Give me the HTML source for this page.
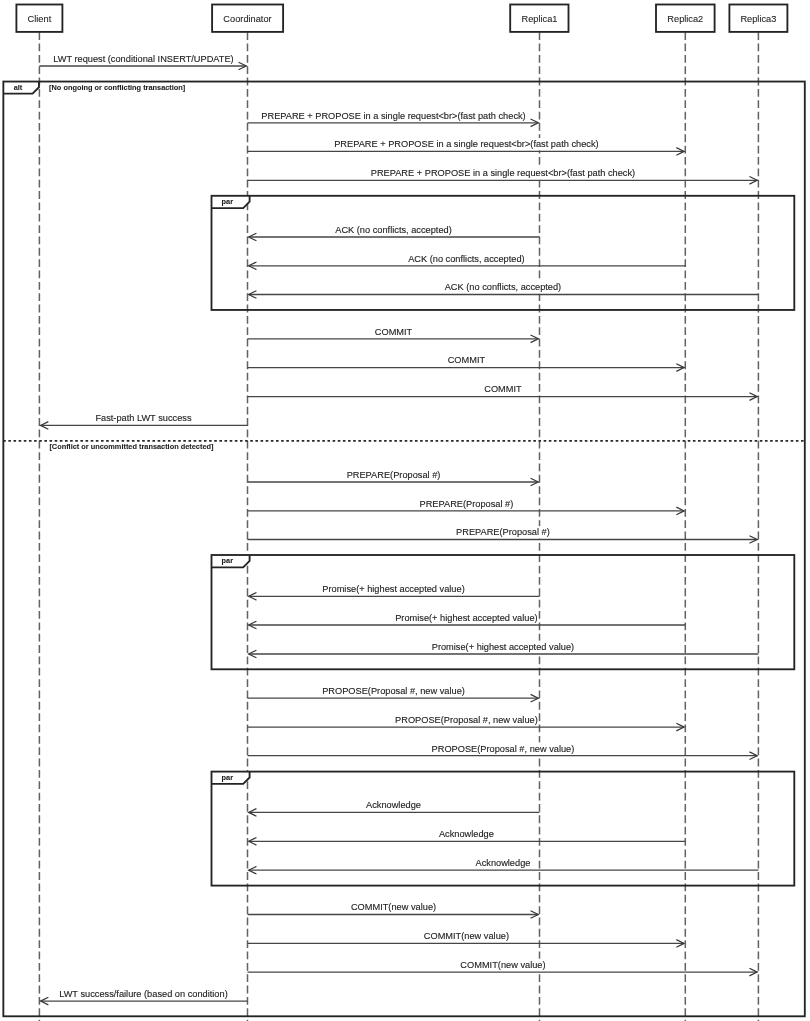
<!DOCTYPE html>
<html><head><meta charset="utf-8"><title>LWT sequence diagram</title>
<style>html,body{margin:0;padding:0;background:#fff;width:810px;height:1021px;overflow:hidden}svg{display:block;filter:grayscale(1)}</style>
</head><body>
<svg width="810" height="1021" viewBox="0 0 810 1021">
<style>text{font-family:"Liberation Sans",sans-serif}.m{font-size:9.25px;fill:#222;stroke:#222;stroke-width:0.12px}.p{font-size:9.25px;fill:#262626;stroke:#262626;stroke-width:0.1px}.b{font-size:7.37px;font-weight:bold;fill:#1e1e1e;stroke:#1e1e1e;stroke-width:0.08px}</style>
<rect width="810" height="1021" fill="#fff"/>
<line x1="39.4" y1="32.2" x2="39.4" y2="1021" stroke="#626262" stroke-width="1.5" stroke-dasharray="7.8 3.55"/>
<line x1="247.5" y1="32.2" x2="247.5" y2="1021" stroke="#626262" stroke-width="1.5" stroke-dasharray="7.8 3.55"/>
<line x1="539.5" y1="32.2" x2="539.5" y2="1021" stroke="#626262" stroke-width="1.5" stroke-dasharray="7.8 3.55"/>
<line x1="685.3" y1="32.2" x2="685.3" y2="1021" stroke="#626262" stroke-width="1.5" stroke-dasharray="7.8 3.55"/>
<line x1="758.4" y1="32.2" x2="758.4" y2="1021" stroke="#626262" stroke-width="1.5" stroke-dasharray="7.8 3.55"/>
<rect x="53.06" y="52.60" width="180.78" height="12.6" fill="#fff"/>
<rect x="261.06" y="109.40" width="264.88" height="12.6" fill="#fff"/>
<rect x="333.96" y="138.00" width="264.88" height="12.6" fill="#fff"/>
<rect x="370.51" y="166.90" width="264.88" height="12.6" fill="#fff"/>
<rect x="335.14" y="223.60" width="116.72" height="12.6" fill="#fff"/>
<rect x="408.04" y="252.40" width="116.72" height="12.6" fill="#fff"/>
<rect x="444.59" y="281.10" width="116.72" height="12.6" fill="#fff"/>
<rect x="374.74" y="325.40" width="37.52" height="12.6" fill="#fff"/>
<rect x="447.64" y="354.20" width="37.52" height="12.6" fill="#fff"/>
<rect x="484.19" y="383.20" width="37.52" height="12.6" fill="#fff"/>
<rect x="95.29" y="412.00" width="96.31" height="12.6" fill="#fff"/>
<rect x="346.55" y="468.60" width="93.91" height="12.6" fill="#fff"/>
<rect x="419.45" y="497.50" width="93.91" height="12.6" fill="#fff"/>
<rect x="456.00" y="526.10" width="93.91" height="12.6" fill="#fff"/>
<rect x="322.16" y="582.90" width="142.69" height="12.6" fill="#fff"/>
<rect x="395.06" y="611.60" width="142.69" height="12.6" fill="#fff"/>
<rect x="431.61" y="640.60" width="142.69" height="12.6" fill="#fff"/>
<rect x="322.03" y="684.80" width="142.94" height="12.6" fill="#fff"/>
<rect x="394.93" y="713.70" width="142.94" height="12.6" fill="#fff"/>
<rect x="431.48" y="742.30" width="142.94" height="12.6" fill="#fff"/>
<rect x="365.98" y="799.00" width="55.03" height="12.6" fill="#fff"/>
<rect x="438.88" y="827.90" width="55.03" height="12.6" fill="#fff"/>
<rect x="475.43" y="856.80" width="55.03" height="12.6" fill="#fff"/>
<rect x="350.84" y="901.10" width="85.33" height="12.6" fill="#fff"/>
<rect x="423.74" y="930.00" width="85.33" height="12.6" fill="#fff"/>
<rect x="460.29" y="958.70" width="85.33" height="12.6" fill="#fff"/>
<rect x="59.04" y="987.70" width="168.81" height="12.6" fill="#fff"/>
<path d="M3.35 81.55 V93.65 H32.55 L38.95 87.25 V81.55 Z" fill="#fff" stroke="none"/>
<rect x="3.35" y="81.55" width="801.45" height="934.75" fill="none" stroke="#242424" stroke-width="1.85"/>
<path d="M3.35 93.65 H32.55 L38.95 87.25 V81.55" fill="none" stroke="#242424" stroke-width="1.85"/>
<text class="b" transform="translate(17.95 89.60) scale(1 1.07)" text-anchor="middle">alt</text>
<text class="b" transform="translate(49.10 89.90) scale(1 1.07)">[No ongoing or conflicting transaction]</text>
<path d="M211.5 195.8 V208.10 H243.20 L249.60 201.70 V195.8 Z" fill="#fff" stroke="none"/>
<rect x="211.5" y="195.8" width="582.80" height="114.15" fill="none" stroke="#242424" stroke-width="1.85"/>
<path d="M211.5 208.10 H243.20 L249.60 201.70 V195.8" fill="none" stroke="#242424" stroke-width="1.85"/>
<text class="b" transform="translate(227.35 203.85) scale(1 1.07)" text-anchor="middle">par</text>
<path d="M211.5 555.0 V567.30 H243.20 L249.60 560.90 V555.0 Z" fill="#fff" stroke="none"/>
<rect x="211.5" y="555.0" width="582.80" height="114.30" fill="none" stroke="#242424" stroke-width="1.85"/>
<path d="M211.5 567.30 H243.20 L249.60 560.90 V555.0" fill="none" stroke="#242424" stroke-width="1.85"/>
<text class="b" transform="translate(227.35 563.05) scale(1 1.07)" text-anchor="middle">par</text>
<path d="M211.5 771.6 V783.90 H243.20 L249.60 777.50 V771.6 Z" fill="#fff" stroke="none"/>
<rect x="211.5" y="771.6" width="582.80" height="114.00" fill="none" stroke="#242424" stroke-width="1.85"/>
<path d="M211.5 783.90 H243.20 L249.60 777.50 V771.6" fill="none" stroke="#242424" stroke-width="1.85"/>
<text class="b" transform="translate(227.35 779.65) scale(1 1.07)" text-anchor="middle">par</text>
<line x1="3.2" y1="440.9" x2="804.8" y2="440.9" stroke="#2a2a2a" stroke-width="1.6" stroke-dasharray="2.6 2.547"/>
<text class="b" transform="translate(49.40 449.35) scale(1 1.07)">[Conflict or uncommitted transaction detected]</text>
<rect x="16.40" y="4.5" width="46.00" height="27.4" fill="#fff" stroke="#242424" stroke-width="1.85"/>
<text class="p" transform="translate(39.40 21.55) scale(1 1.07)" text-anchor="middle">Client</text>
<rect x="212.10" y="4.5" width="71.00" height="27.4" fill="#fff" stroke="#242424" stroke-width="1.85"/>
<text class="p" transform="translate(247.50 21.55) scale(1 1.07)" text-anchor="middle">Coordinator</text>
<rect x="510.20" y="4.5" width="58.30" height="27.4" fill="#fff" stroke="#242424" stroke-width="1.85"/>
<text class="p" transform="translate(539.50 21.55) scale(1 1.07)" text-anchor="middle">Replica1</text>
<rect x="656.00" y="4.5" width="58.60" height="27.4" fill="#fff" stroke="#242424" stroke-width="1.85"/>
<text class="p" transform="translate(685.30 21.55) scale(1 1.07)" text-anchor="middle">Replica2</text>
<rect x="729.40" y="4.5" width="58.00" height="27.4" fill="#fff" stroke="#242424" stroke-width="1.85"/>
<text class="p" transform="translate(758.40 21.55) scale(1 1.07)" text-anchor="middle">Replica3</text>
<line x1="39.4" y1="66.0" x2="246.30" y2="66.0" stroke="#464646" stroke-width="1.3"/>
<path d="M238.55 62.20 L246.30 66.0 L238.55 69.80" fill="none" stroke="#383838" stroke-width="1.25"/>
<text class="m" transform="translate(143.45 61.80) scale(1 1.07)" text-anchor="middle">LWT request (conditional INSERT/UPDATE)</text>
<line x1="247.5" y1="122.8" x2="538.30" y2="122.8" stroke="#464646" stroke-width="1.3"/>
<path d="M530.55 119.00 L538.30 122.8 L530.55 126.60" fill="none" stroke="#383838" stroke-width="1.25"/>
<text class="m" transform="translate(393.50 118.60) scale(1 1.07)" text-anchor="middle">PREPARE + PROPOSE in a single request&lt;br&gt;(fast path check)</text>
<line x1="247.5" y1="151.4" x2="684.10" y2="151.4" stroke="#464646" stroke-width="1.3"/>
<path d="M676.35 147.60 L684.10 151.4 L676.35 155.20" fill="none" stroke="#383838" stroke-width="1.25"/>
<text class="m" transform="translate(466.40 147.20) scale(1 1.07)" text-anchor="middle">PREPARE + PROPOSE in a single request&lt;br&gt;(fast path check)</text>
<line x1="247.5" y1="180.3" x2="757.20" y2="180.3" stroke="#464646" stroke-width="1.3"/>
<path d="M749.45 176.50 L757.20 180.3 L749.45 184.10" fill="none" stroke="#383838" stroke-width="1.25"/>
<text class="m" transform="translate(502.95 176.10) scale(1 1.07)" text-anchor="middle">PREPARE + PROPOSE in a single request&lt;br&gt;(fast path check)</text>
<line x1="539.5" y1="237.0" x2="248.70" y2="237.0" stroke="#464646" stroke-width="1.3"/>
<path d="M256.45 233.20 L248.70 237.0 L256.45 240.80" fill="none" stroke="#383838" stroke-width="1.25"/>
<text class="m" transform="translate(393.50 232.80) scale(1 1.07)" text-anchor="middle">ACK (no conflicts, accepted)</text>
<line x1="685.3" y1="265.8" x2="248.70" y2="265.8" stroke="#464646" stroke-width="1.3"/>
<path d="M256.45 262.00 L248.70 265.8 L256.45 269.60" fill="none" stroke="#383838" stroke-width="1.25"/>
<text class="m" transform="translate(466.40 261.60) scale(1 1.07)" text-anchor="middle">ACK (no conflicts, accepted)</text>
<line x1="758.4" y1="294.5" x2="248.70" y2="294.5" stroke="#464646" stroke-width="1.3"/>
<path d="M256.45 290.70 L248.70 294.5 L256.45 298.30" fill="none" stroke="#383838" stroke-width="1.25"/>
<text class="m" transform="translate(502.95 290.30) scale(1 1.07)" text-anchor="middle">ACK (no conflicts, accepted)</text>
<line x1="247.5" y1="338.8" x2="538.30" y2="338.8" stroke="#464646" stroke-width="1.3"/>
<path d="M530.55 335.00 L538.30 338.8 L530.55 342.60" fill="none" stroke="#383838" stroke-width="1.25"/>
<text class="m" transform="translate(393.50 334.60) scale(1 1.07)" text-anchor="middle">COMMIT</text>
<line x1="247.5" y1="367.6" x2="684.10" y2="367.6" stroke="#464646" stroke-width="1.3"/>
<path d="M676.35 363.80 L684.10 367.6 L676.35 371.40" fill="none" stroke="#383838" stroke-width="1.25"/>
<text class="m" transform="translate(466.40 363.40) scale(1 1.07)" text-anchor="middle">COMMIT</text>
<line x1="247.5" y1="396.6" x2="757.20" y2="396.6" stroke="#464646" stroke-width="1.3"/>
<path d="M749.45 392.80 L757.20 396.6 L749.45 400.40" fill="none" stroke="#383838" stroke-width="1.25"/>
<text class="m" transform="translate(502.95 392.40) scale(1 1.07)" text-anchor="middle">COMMIT</text>
<line x1="247.5" y1="425.4" x2="40.60" y2="425.4" stroke="#464646" stroke-width="1.3"/>
<path d="M48.35 421.60 L40.60 425.4 L48.35 429.20" fill="none" stroke="#383838" stroke-width="1.25"/>
<text class="m" transform="translate(143.45 421.20) scale(1 1.07)" text-anchor="middle">Fast-path LWT success</text>
<line x1="247.5" y1="482.0" x2="538.30" y2="482.0" stroke="#464646" stroke-width="1.3"/>
<path d="M530.55 478.20 L538.30 482.0 L530.55 485.80" fill="none" stroke="#383838" stroke-width="1.25"/>
<text class="m" transform="translate(393.50 477.80) scale(1 1.07)" text-anchor="middle">PREPARE(Proposal #)</text>
<line x1="247.5" y1="510.9" x2="684.10" y2="510.9" stroke="#464646" stroke-width="1.3"/>
<path d="M676.35 507.10 L684.10 510.9 L676.35 514.70" fill="none" stroke="#383838" stroke-width="1.25"/>
<text class="m" transform="translate(466.40 506.70) scale(1 1.07)" text-anchor="middle">PREPARE(Proposal #)</text>
<line x1="247.5" y1="539.5" x2="757.20" y2="539.5" stroke="#464646" stroke-width="1.3"/>
<path d="M749.45 535.70 L757.20 539.5 L749.45 543.30" fill="none" stroke="#383838" stroke-width="1.25"/>
<text class="m" transform="translate(502.95 535.30) scale(1 1.07)" text-anchor="middle">PREPARE(Proposal #)</text>
<line x1="539.5" y1="596.3" x2="248.70" y2="596.3" stroke="#464646" stroke-width="1.3"/>
<path d="M256.45 592.50 L248.70 596.3 L256.45 600.10" fill="none" stroke="#383838" stroke-width="1.25"/>
<text class="m" transform="translate(393.50 592.10) scale(1 1.07)" text-anchor="middle">Promise(+ highest accepted value)</text>
<line x1="685.3" y1="625.0" x2="248.70" y2="625.0" stroke="#464646" stroke-width="1.3"/>
<path d="M256.45 621.20 L248.70 625.0 L256.45 628.80" fill="none" stroke="#383838" stroke-width="1.25"/>
<text class="m" transform="translate(466.40 620.80) scale(1 1.07)" text-anchor="middle">Promise(+ highest accepted value)</text>
<line x1="758.4" y1="654.0" x2="248.70" y2="654.0" stroke="#464646" stroke-width="1.3"/>
<path d="M256.45 650.20 L248.70 654.0 L256.45 657.80" fill="none" stroke="#383838" stroke-width="1.25"/>
<text class="m" transform="translate(502.95 649.80) scale(1 1.07)" text-anchor="middle">Promise(+ highest accepted value)</text>
<line x1="247.5" y1="698.2" x2="538.30" y2="698.2" stroke="#464646" stroke-width="1.3"/>
<path d="M530.55 694.40 L538.30 698.2 L530.55 702.00" fill="none" stroke="#383838" stroke-width="1.25"/>
<text class="m" transform="translate(393.50 694.00) scale(1 1.07)" text-anchor="middle">PROPOSE(Proposal #, new value)</text>
<line x1="247.5" y1="727.1" x2="684.10" y2="727.1" stroke="#464646" stroke-width="1.3"/>
<path d="M676.35 723.30 L684.10 727.1 L676.35 730.90" fill="none" stroke="#383838" stroke-width="1.25"/>
<text class="m" transform="translate(466.40 722.90) scale(1 1.07)" text-anchor="middle">PROPOSE(Proposal #, new value)</text>
<line x1="247.5" y1="755.7" x2="757.20" y2="755.7" stroke="#464646" stroke-width="1.3"/>
<path d="M749.45 751.90 L757.20 755.7 L749.45 759.50" fill="none" stroke="#383838" stroke-width="1.25"/>
<text class="m" transform="translate(502.95 751.50) scale(1 1.07)" text-anchor="middle">PROPOSE(Proposal #, new value)</text>
<line x1="539.5" y1="812.4" x2="248.70" y2="812.4" stroke="#464646" stroke-width="1.3"/>
<path d="M256.45 808.60 L248.70 812.4 L256.45 816.20" fill="none" stroke="#383838" stroke-width="1.25"/>
<text class="m" transform="translate(393.50 808.20) scale(1 1.07)" text-anchor="middle">Acknowledge</text>
<line x1="685.3" y1="841.3" x2="248.70" y2="841.3" stroke="#464646" stroke-width="1.3"/>
<path d="M256.45 837.50 L248.70 841.3 L256.45 845.10" fill="none" stroke="#383838" stroke-width="1.25"/>
<text class="m" transform="translate(466.40 837.10) scale(1 1.07)" text-anchor="middle">Acknowledge</text>
<line x1="758.4" y1="870.2" x2="248.70" y2="870.2" stroke="#464646" stroke-width="1.3"/>
<path d="M256.45 866.40 L248.70 870.2 L256.45 874.00" fill="none" stroke="#383838" stroke-width="1.25"/>
<text class="m" transform="translate(502.95 866.00) scale(1 1.07)" text-anchor="middle">Acknowledge</text>
<line x1="247.5" y1="914.5" x2="538.30" y2="914.5" stroke="#464646" stroke-width="1.3"/>
<path d="M530.55 910.70 L538.30 914.5 L530.55 918.30" fill="none" stroke="#383838" stroke-width="1.25"/>
<text class="m" transform="translate(393.50 910.30) scale(1 1.07)" text-anchor="middle">COMMIT(new value)</text>
<line x1="247.5" y1="943.4" x2="684.10" y2="943.4" stroke="#464646" stroke-width="1.3"/>
<path d="M676.35 939.60 L684.10 943.4 L676.35 947.20" fill="none" stroke="#383838" stroke-width="1.25"/>
<text class="m" transform="translate(466.40 939.20) scale(1 1.07)" text-anchor="middle">COMMIT(new value)</text>
<line x1="247.5" y1="972.1" x2="757.20" y2="972.1" stroke="#464646" stroke-width="1.3"/>
<path d="M749.45 968.30 L757.20 972.1 L749.45 975.90" fill="none" stroke="#383838" stroke-width="1.25"/>
<text class="m" transform="translate(502.95 967.90) scale(1 1.07)" text-anchor="middle">COMMIT(new value)</text>
<line x1="247.5" y1="1001.1" x2="40.60" y2="1001.1" stroke="#464646" stroke-width="1.3"/>
<path d="M48.35 997.30 L40.60 1001.1 L48.35 1004.90" fill="none" stroke="#383838" stroke-width="1.25"/>
<text class="m" transform="translate(143.45 996.90) scale(1 1.07)" text-anchor="middle">LWT success/failure (based on condition)</text>
</svg>
</body></html>
